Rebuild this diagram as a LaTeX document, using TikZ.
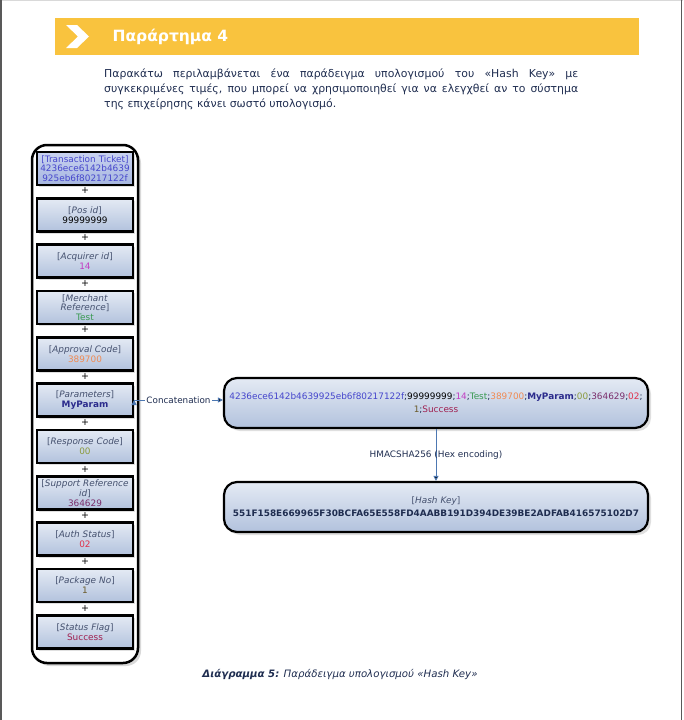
\documentclass[tikz,border=0pt]{standalone}
\usepackage{fontspec}
\setmainfont{DejaVu Sans}
\usetikzlibrary{shadows,arrows.meta}
\definecolor{bannerYellow}{HTML}{F9C33E}
\definecolor{inkNavy}{HTML}{1F2D50}
\definecolor{labelGray}{HTML}{44506E}
\definecolor{fieldTop}{HTML}{E4EAF4}
\definecolor{fieldBot}{HTML}{B2C2DD}
\definecolor{ticketTop}{HTML}{C9D3F0}
\definecolor{ticketBot}{HTML}{A6B6E0}
\definecolor{linkBlue}{HTML}{4D78B2}
\definecolor{valBlue}{HTML}{4646CC}
\definecolor{valMagenta}{HTML}{C23CC2}
\definecolor{valGreen}{HTML}{3A9A52}
\definecolor{valOrange}{HTML}{F08A52}
\definecolor{valNavy}{HTML}{2B2B8C}
\definecolor{valOlive}{HTML}{8A9A3A}
\definecolor{valPurple}{HTML}{7B2D6B}
\definecolor{valRed}{HTML}{E0304A}
\definecolor{valBrown}{HTML}{6B5B2B}
\definecolor{valMaroon}{HTML}{A02050}
\tikzset{
  field/.style={draw=black, line width=2.2pt, top color=fieldTop, bottom color=fieldBot,
    minimum width=94pt, minimum height=33pt, text width=96pt, align=center, inner sep=0pt,
    font=\fontsize{8.9}{9.8}\selectfont, text=labelGray,
    drop shadow={opacity=0.25, shadow xshift=2pt, shadow yshift=-2pt}},
  plus/.style={font=\fontsize{9.5}{9.5}\selectfont, text=black, inner sep=0pt},
  bigbox/.style={draw=black, line width=2.2pt, rounded corners=13pt, top color=fieldTop, bottom color=fieldBot,
    minimum width=424pt, minimum height=50pt, text width=420pt, align=center, inner sep=0pt,
    font=\fontsize{8.9}{12.5}\selectfont, text=inkNavy,
    drop shadow={opacity=0.25, shadow xshift=3pt, shadow yshift=-3pt}},
  link/.style={draw=linkBlue, line width=1pt, -{Triangle[length=5pt,width=5pt]}}
}
\begin{document}
\begin{tikzpicture}[x=1pt, y=-1pt]
\useasboundingbox (0,0) rectangle (683,720);
\draw[gray!30, line width=1.5pt] (0,0.5) -- (683,0.5);
\draw[black!65, line width=1.5pt] (1,0) -- (1,720);
\draw[black!65, line width=1.5pt] (681.5,0) -- (681.5,720);
\node[fill=bannerYellow, minimum width=584pt, minimum height=37pt, inner sep=0pt, anchor=north west] (banner) at (55,18) {};
\fill[white] (66,25) -- (77,25) -- (89,36.5) -- (77,48) -- (66,48) -- (78,36.5) -- cycle;
\node[anchor=west, text=white, font=\fontsize{15.5}{18}\selectfont\bfseries] (title) at (109,36.5) {Παράρτημα 4};
\node[anchor=north west, text width=474pt, align=justify, inner sep=0pt, text=inkNavy, font=\fontsize{10.9}{15}\selectfont] (intro) at (104,68.5) {Παρακάτω περιλαμβάνεται ένα παράδειγμα υπολογισμού του «Hash Key» με\linebreak συγκεκριμένες τιμές, που μπορεί να χρησιμοποιηθεί για να ελεγχθεί αν το σύστημα\linebreak της επιχείρησης κάνει σωστό υπολογισμό.};
\node[draw=black, line width=2.5pt, rounded corners=15pt, fill=white, minimum width=106pt, minimum height=518pt,
  drop shadow={opacity=0.3, shadow xshift=3pt, shadow yshift=-3pt}] (chain) at (85,404) {};
\node[field, top color=ticketTop, bottom color=ticketBot, text=valBlue] (ticket) at (85,168.5) {[Transaction Ticket]\\4236ece6142b4639\\925eb6f80217122f};
\node[field] (pos) at (85,215) {[\textit{Pos id}]\\\textcolor{black}{99999999}};
\node[field] (acquirer) at (85,261) {[\textit{Acquirer id}]\\\textcolor{valMagenta}{14}};
\node[field] (merchant) at (85,307.5) {[\textit{Merchant}\\\textit{Reference}]\\\textcolor{valGreen}{Test}};
\node[field] (approval) at (85,354) {[\textit{Approval Code}]\\\textcolor{valOrange}{389700}};
\node[field] (params) at (85,400) {[\textit{Parameters}]\\\textcolor{valNavy}{\bfseries MyParam}};
\node[field] (response) at (85,446.5) {[\textit{Response Code}]\\\textcolor{valOlive}{00}};
\node[field] (support) at (85,493) {[\textit{Support Reference}\\\textit{id}]\\\textcolor{valPurple}{364629}};
\node[field] (auth) at (85,539) {[\textit{Auth Status}]\\\textcolor{valRed}{02}};
\node[field] (package) at (85,585.5) {[\textit{Package No}]\\\textcolor{valBrown}{1}};
\node[field] (status) at (85,632) {[\textit{Status Flag}]\\\textcolor{valMaroon}{Success}};
\node[plus] (p1) at (85,191) {+};
\node[plus] (p2) at (85,237.5) {+};
\node[plus] (p3) at (85,284) {+};
\node[plus] (p4) at (85,330) {+};
\node[plus] (p5) at (85,376.5) {+};
\node[plus] (p6) at (85,423) {+};
\node[plus] (p7) at (85,469.5) {+};
\node[plus] (p8) at (85,516) {+};
\node[plus] (p9) at (85,562) {+};
\node[plus] (p10) at (85,608.5) {+};
\node[bigbox] (concat) at (436,403) {\textcolor{valBlue}{4236ece6142b4639925eb6f80217122f};\textcolor{black}{99999999};\textcolor{valMagenta}{14};\textcolor{valGreen}{Test};\textcolor{valOrange}{389700};\textcolor{valNavy}{\bfseries MyParam};\textcolor{valOlive}{00};\textcolor{valPurple}{364629};\textcolor{valRed}{02};\\\textcolor{valBrown}{1};\textcolor{valMaroon}{Success}};
\node[bigbox, font=\fontsize{8.9}{13}\selectfont] (hash) at (436,507) {\textcolor{labelGray}{[\textit{Hash Key}]}\\{\fontsize{8.9}{11}\selectfont\bfseries 551F158E669965F30BCFA65E558FD4AABB191D394DE39BE2ADFAB416575102D7}};
\path [link] (params.east) edge node[fill=white, inner sep=1pt, text=inkNavy, font=\fontsize{8.8}{9}\selectfont] {Concatenation} (params.east -| concat.west);
\path [link] (concat) edge node[text=inkNavy, font=\fontsize{8.9}{9}\selectfont] {HMACSHA256 (Hex encoding)} (hash);
\node[text=inkNavy, font=\fontsize{10.2}{12}\selectfont\itshape] (caption) at (340,674) {\textbf{Διάγραμμα 5:} Παράδειγμα υπολογισμού «Hash Key»};
\end{tikzpicture}
\end{document}
